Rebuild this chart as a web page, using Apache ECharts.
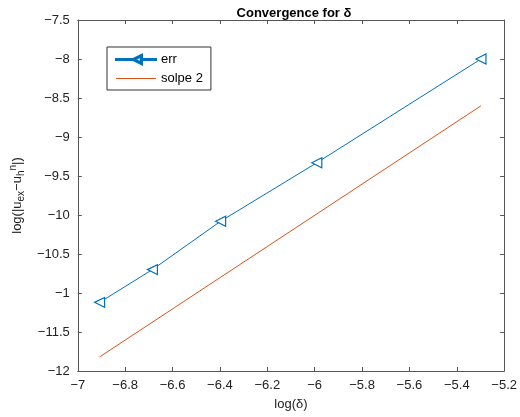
<!DOCTYPE html><html><head><meta charset="utf-8"><script src="https://cdn.jsdelivr.net/npm/echarts@6/dist/echarts.min.js"></script></head><body style="margin:0"><div id="c" style="width:520px;height:417px"></div><script>
const errX=[-6.908,-6.685,-6.397,-5.991,-5.298];
const errY=[-11.12,-10.70,-10.08,-9.33,-8.00];
const slopeX=[-6.908,-5.298];
const slopeY=[-11.82,-8.60];
const yLabels={'-7.5':'−7.5','-8':'−8','-8.5':'−8.5','-9':'−9','-9.5':'−9.5','-10':'−10','-10.5':'−10.5','-11':'−1','-11.5':'−11.5','-12':'−12'};
const ch=echarts.init(document.getElementById('c'));
const F='Helvetica, Liberation Sans, Arial, sans-serif';
const ax={axisLine:{onZero:false,lineStyle:{color:'#555'}},axisTick:{inside:true,length:4,lineStyle:{color:'#555'}},splitLine:{show:false}};
ch.setOption({animation:false,
title:{text:'Convergence for δ',left:289,top:2,textAlign:'center',textStyle:{fontSize:13,fontWeight:'bold',color:'#000',fontFamily:F}},
grid:{left:67,right:9,top:20,bottom:46},
legend:{left:107,top:47,orient:'vertical',itemGap:6,padding:[6,8,5,8],borderColor:'#333',borderWidth:1,borderRadius:0,backgroundColor:'#fff',itemWidth:40,itemHeight:10,textStyle:{fontSize:13,color:'#000',fontFamily:F},
data:[{name:'err',icon:'path://M0,4.5H16.5V5.5H0Z M25.5,4.5H40V5.5H25.5Z M26,0L26,10L16,5Z M24.8,2.2L18.6,5L24.8,7.8Z',itemStyle:{color:'#0072BD'}},
{name:'solpe 2',icon:'path://M0,4.4H40V5.6H0Z',itemStyle:{color:'#D95319'}}]},
xAxis:[Object.assign({type:'value',min:-7,max:-5.2,interval:0.2,name:'log(δ)',nameLocation:'middle',nameGap:27,nameTextStyle:{fontSize:13,color:'#222',fontFamily:F},
axisLabel:{color:'#222',fontSize:13,fontFamily:F,formatter:v=>(Math.round(v*10)/10).toString().replace('-','−')}},ax),
Object.assign({type:'value',position:'top',min:-7,max:-5.2,interval:0.2,axisLabel:{show:false}},ax)],
yAxis:[Object.assign({type:'value',min:-12,max:-7.5,interval:0.5,name:'log(|u{b|ex}−u{b|h}{p|n}|)',nameLocation:'middle',nameGap:44,
nameTextStyle:{fontSize:13,color:'#222',fontFamily:F,rich:{b:{fontSize:10,padding:[8,0,0,0],color:'#222',fontFamily:F},p:{fontSize:10,padding:[0,0,8,0],color:'#222',fontFamily:F}}},
axisLabel:{color:'#222',fontSize:13,fontFamily:F,formatter:v=>yLabels[(Math.round(v*10)/10).toString()]||v}},ax),
Object.assign({type:'value',position:'right',min:-12,max:-7.5,interval:0.5,axisLabel:{show:false}},ax)],
series:[
{name:'err',type:'line',data:errX.map((x,i)=>[x,errY[i]]),symbol:'triangle',symbolRotate:90,symbolSize:10,showAllSymbol:true,
lineStyle:{color:'#0072BD',width:1},itemStyle:{color:'#fff',borderColor:'#0072BD',borderWidth:1.2},color:'#0072BD'},
{name:'solpe 2',type:'line',data:slopeX.map((x,i)=>[x,slopeY[i]]),symbol:'none',lineStyle:{color:'#D95319',width:1},itemStyle:{color:'#D95319'},color:'#D95319'}
]});
</script></body></html>
